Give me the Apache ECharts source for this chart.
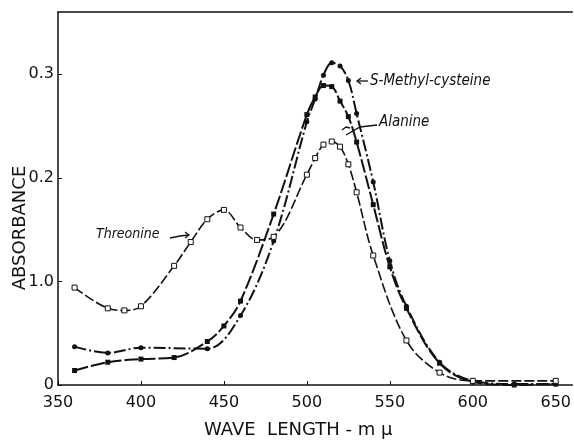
<!DOCTYPE html>
<html>
<head>
<meta charset="utf-8">
<script src="https://cdn.jsdelivr.net/npm/echarts@6/dist/echarts.min.js"></script>
<style>
  html, body { margin: 0; padding: 0; background: #fff; }
  #main { width: 574px; height: 440px; }
</style>
</head>
<body>
<div id="main"></div>
<script>
// 数据：波长 (mμ) 和吸光度
var thrWave = [360, 380, 390, 400, 420, 430, 440, 450, 460, 470, 480, 500, 505, 510, 515, 520, 525, 530, 540, 560, 580, 600, 650];
var threonine = [0.094, 0.074, 0.072, 0.076, 0.115, 0.138, 0.160, 0.169, 0.152, 0.140, 0.143, 0.203, 0.219, 0.232, 0.235, 0.230, 0.213, 0.186, 0.125, 0.043, 0.012, 0.004, 0.004];

var smcWave = [360, 380, 400, 440, 460, 480, 500, 505, 510, 515, 520, 525, 530, 540, 550, 560, 580, 600, 625, 650];
var sMethylCysteine = [0.037, 0.031, 0.036, 0.035, 0.067, 0.139, 0.254, 0.276, 0.299, 0.311, 0.308, 0.294, 0.262, 0.196, 0.120, 0.076, 0.022, 0.004, 0.001, 0.001];

var alaWave = [360, 380, 400, 420, 440, 450, 460, 480, 500, 505, 510, 515, 520, 525, 530, 540, 550, 560, 580, 600, 625, 650];
var alanine = [0.014, 0.022, 0.025, 0.0265, 0.042, 0.057, 0.081, 0.165, 0.261, 0.278, 0.289, 0.288, 0.274, 0.259, 0.2345, 0.174, 0.114, 0.074, 0.021, 0.003, 0.000, 0.001];

var yTickValues = [0, 0.1, 0.2, 0.3];
var yTickLabels = ['0', '1.0', '0.2', '0.3'];

function pairs(xs, ys) {
    return xs.map(function (x, i) { return [x, ys[i]]; });
}

var ink = '#111';
var chart = echarts.init(document.getElementById('main'));

var option = {
    animation: false,
    backgroundColor: '#fff',
    grid: { left: 58, right: 0, top: 12, bottom: 55 },
    xAxis: [{
        type: 'value',
        min: 350,
        max: 660,
        interval: 50,
        axisLine: { lineStyle: { color: ink, width: 1.5 } },
        axisTick: { inside: true, length: 4, lineStyle: { color: ink } },
        axisLabel: {
            color: ink, fontSize: 16, margin: 10, showMaxLabel: false,
            fontFamily: 'DejaVu Sans'
        },
        splitLine: { show: false }
    }, {
        type: 'value',
        position: 'top',
        min: 350,
        max: 660,
        axisLine: { show: true, lineStyle: { color: ink, width: 1.5 } },
        axisTick: { show: false },
        axisLabel: { show: false },
        splitLine: { show: false }
    }],
    yAxis: {
        type: 'value',
        min: 0,
        max: 0.36,
        interval: 0.1,
        axisLine: { show: true, lineStyle: { color: ink, width: 1.5 } },
        axisTick: { inside: true, length: 4, lineStyle: { color: ink } },
        axisLabel: {
            color: ink, fontSize: 16, margin: 4, showMaxLabel: false,
            fontFamily: 'DejaVu Sans',
            formatter: function (v) {
                for (var i = 0; i < yTickValues.length; i++) {
                    if (Math.abs(v - yTickValues[i]) < 1e-6) return yTickLabels[i];
                }
                return '';
            }
        },
        splitLine: { show: false }
    },
    series: [
        {
            name: 'Threonine',
            type: 'line',
            data: pairs(thrWave, threonine),
            smooth: 0.35,
            symbol: 'rect',
            symbolSize: 5,
            itemStyle: { color: '#fff', borderColor: ink, borderWidth: 1 },
            lineStyle: { color: ink, width: 1.6, type: [10, 3] },
            z: 3
        },
        {
            name: 'S-Methyl-cysteine',
            type: 'line',
            data: pairs(smcWave, sMethylCysteine),
            smooth: 0.35,
            symbol: 'circle',
            symbolSize: 5,
            itemStyle: { color: ink },
            lineStyle: { color: ink, width: 2, type: [12, 3, 2, 3] },
            z: 2
        },
        {
            name: 'Alanine',
            type: 'line',
            data: pairs(alaWave, alanine),
            smooth: 0.35,
            symbol: 'rect',
            symbolSize: 5,
            itemStyle: { color: ink },
            lineStyle: { color: ink, width: 2, type: [14, 3] },
            z: 2
        }
    ],
    graphic: [
        {
            type: 'text', left: 370, top: 74,
            style: { text: 'S-Methyl-cysteine', fontSize: 15, fontStyle: 'italic', fill: ink, fontFamily: 'DejaVu Sans Condensed, DejaVu Sans' }
        },
        {
            type: 'text', left: 379, top: 115,
            style: { text: 'Alanine', fontSize: 15, fontStyle: 'italic', fill: ink, fontFamily: 'DejaVu Sans Condensed, DejaVu Sans' }
        },
        {
            type: 'text', left: 96, top: 227,
            style: { text: 'Threonine', fontSize: 14, fontStyle: 'italic', fill: ink, fontFamily: 'DejaVu Sans Condensed, DejaVu Sans' }
        },
        // 箭头
        { type: 'polyline', shape: { points: [[368, 81], [357, 81]] }, style: { stroke: ink, lineWidth: 1.3 } },
        { type: 'polyline', shape: { points: [[361, 78], [357, 81], [361, 84]] }, style: { stroke: ink, lineWidth: 1.3, fill: null } },
        { type: 'polyline', shape: { points: [[377, 125], [360, 127], [346, 135]] }, style: { stroke: ink, lineWidth: 1.3, fill: null } },
        { type: 'polyline', shape: { points: [[342, 130], [346, 127], [350, 128]] }, style: { stroke: ink, lineWidth: 1.3, fill: null } },
        { type: 'polyline', shape: { points: [[170, 238], [180, 236], [189, 235]] }, style: { stroke: ink, lineWidth: 1.3, fill: null } },
        { type: 'polyline', shape: { points: [[185, 232], [189, 235], [185, 238]] }, style: { stroke: ink, lineWidth: 1.3, fill: null } },
        // 坐标轴标题
        {
            type: 'text', left: 204, top: 421,
            style: { text: 'WAVE  LENGTH - m μ', fontSize: 18, fill: ink, fontFamily: 'DejaVu Sans' }
        },
        {
            type: 'text', x: 20, y: 228, rotation: Math.PI / 2,
            style: { text: 'ABSORBANCE', fontSize: 18, fill: ink, fontFamily: 'DejaVu Sans', align: 'center', verticalAlign: 'middle' }
        }
    ]
};

chart.setOption(option);
</script>
</body>
</html>
